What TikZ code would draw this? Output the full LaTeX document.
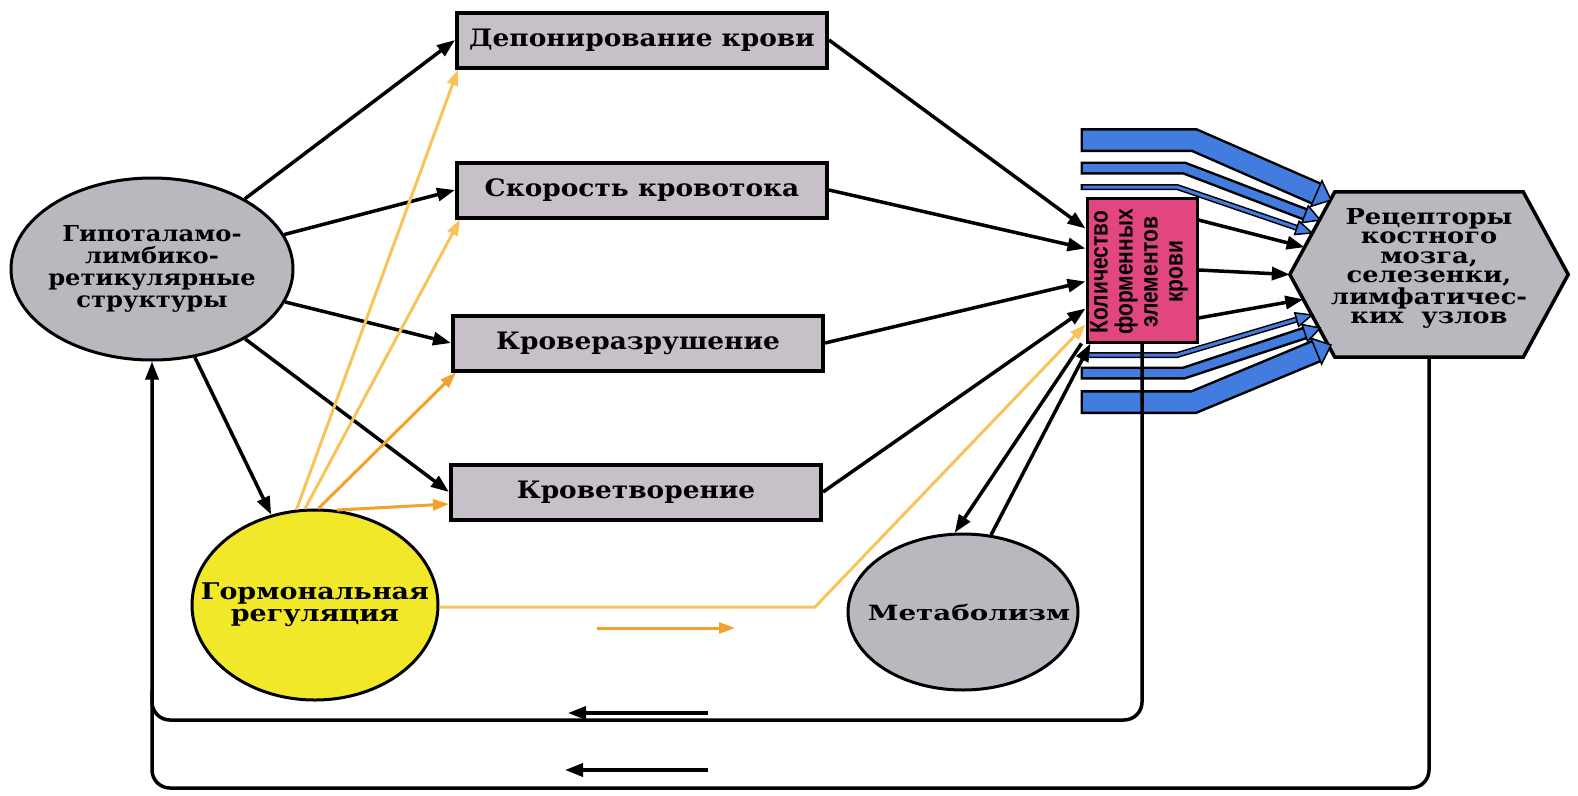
\documentclass[tikz,border=0pt]{standalone}
\usepackage{fontspec}
\setmainfont{DejaVu Serif}
\newfontfamily\bxfont[FakeStretch=1.1]{DejaVu Serif}
\newfontfamily\wfont[FakeStretch=1.17]{DejaVu Serif}
\newfontfamily\xwfont[FakeStretch=1.32]{DejaVu Serif}
\newfontfamily\sffont[FakeStretch=0.84]{Liberation Sans}
\usetikzlibrary{arrows.meta,shapes.geometric,calc}
\definecolor{boxgray}{RGB}{200,192,200}
\definecolor{cgray}{RGB}{186,184,190}
\definecolor{pinkf}{RGB}{226,70,128}
\definecolor{yell}{RGB}{240,232,40}
\definecolor{bblue}{RGB}{66,124,222}
\definecolor{orng}{RGB}{245,160,40}
\definecolor{lorng}{RGB}{248,196,90}
\begin{document}
\begin{tikzpicture}[x=1pt,y=-1pt,
  tipb/.style={-{Triangle[length=18pt,width=13pt]}},
  conn/.style={line width=3.5pt,tipb},
  box/.style={draw, line width=4pt, fill=boxgray, minimum width=370pt, minimum height=55pt, inner sep=0pt, font=\bxfont\bfseries\fontsize{24}{28}\selectfont},
  oval/.style={draw, line width=3pt, ellipse, inner sep=0pt},
  oarrow/.style={line width=3pt, orng, -{Triangle[length=16pt,width=11pt]}},
  loarrow/.style={oarrow, lorng},
  ovtext/.style={align=center, font=\bxfont\bfseries\fontsize{22}{22}\selectfont},
  hmtext/.style={align=center, font=\wfont\bfseries\fontsize{23}{22}\selectfont},
  mbtext/.style={align=center, font=\xwfont\bfseries\fontsize{21}{22}\selectfont},
  fb/.style={line width=3.5pt, rounded corners=18pt}
]
\useasboundingbox (0,0) rectangle (1578,795);

% left structures
\node[oval, fill=cgray, minimum width=282pt, minimum height=182pt,
  label={[ovtext]center:{Гипоталамо-\\лимбико-\\ретикулярные\\структуры}}] (hyp) at (152,269) {};

% boxes
\node[box] (b1) at (642,40) {Депонирование крови};
\node[box] (b2) at (642,190) {Скорость кровотока};
\node[box] (b3) at (638,343) {Кроверазрушение};
\node[box] (b4) at (636,492) {Кроветворение};

% hormonal & metabolism
\node[oval, fill=yell, minimum width=246pt, minimum height=190pt,
  label={[hmtext]center:{Гормональная\\регуляция}}] (horm) at (315,605) {};
\node[oval, fill=cgray, minimum width=230pt, minimum height=156pt,
  label={[mbtext]center:{\hspace*{12pt}Метаболизм}}] (metab) at (963,612) {};

% pink box
\node[draw, line width=3pt, fill=pinkf, minimum width=110pt, minimum height=144pt, inner sep=0pt] (pink) at (1142,270) {};
\node[rotate=90, align=center, font=\sffont\bfseries\fontsize{25}{25}\selectfont] (pinktxt) at ($(pink.center)+(-3,2)$) {Количество\\форменных\\элементов\\крови};

% hexagon
\node[minimum width=278pt, minimum height=165pt, inner sep=0pt] (hex) at (1429,274.5) {};
\coordinate (hTL) at ($(hex.north west)+(45,0)$);
\coordinate (hTR) at ($(hex.north east)+(-45,0)$);
\coordinate (hBL) at ($(hex.south west)+(45,0)$);
\coordinate (hBR) at ($(hex.south east)+(-45,0)$);
\draw[fill=cgray, line width=3.5pt] (hex.west) -- (hTL) -- (hTR) -- (hex.east) -- (hBR) -- (hBL) -- cycle;
\node[align=center, font=\wfont\bfseries\fontsize{22}{19.5}\selectfont] (hextxt) at ($(hex.center)+(0,-6)$) {Рецепторы\\костного\\мозга,\\селезенки,\\лимфатичес-\\ких~~узлов};

% blue bands
\foreach \n/\ys/\xb/\tx/\ty/\wo/\wi/\hw in {
  t1/140/1194/1331/200/24pt/19pt/14pt,
  t2/168/1184/1320/220/13pt/8pt/9pt,
  t3/187/1177/1312/233/6pt/3pt/7pt,
  u3/355/1177/1312/315/6pt/3pt/7pt,
  u2/373/1184/1320/328/13pt/8pt/9pt,
  u1/402/1194/1331/345/24pt/19pt/14pt}{
  \coordinate (s\n) at (1083,\ys);
  \coordinate (k\n) at (\xb,\ys);
  \coordinate (e\n) at (\tx,\ty);
  \coordinate (a\n) at ($(e\n)!16pt!(k\n)$);
  \draw[black, line width=\wo, line join=miter] ($(s\n)+(-2.5,0)$) -- (k\n) -- (a\n);
  \draw[bblue, line width=\wi, line join=miter] (s\n) -- (k\n) -- (a\n);
  \filldraw[fill=bblue, draw=black, line width=1.5pt] (e\n) -- ($(a\n)!\hw!90:(e\n)$) -- ($(a\n)!\hw!-90:(e\n)$) -- cycle;
}

% connectors from hypothalamic structures
\draw[conn] (hyp) -- (b1.west);
\draw[conn] (hyp) -- (b2.west);
\draw[conn] (hyp) -- (b3.west);
\draw[conn] (hyp) -- (b4.west);
\draw[conn] (hyp) -- (horm);

% orange hormonal arrows
\draw[loarrow] (horm.101) -- ($(b1.south west)+(3,0)$);
\draw[loarrow] (horm.96) -- ($(b2.south west)+(5,0)$);
\draw[oarrow] (horm.88) -- ($(b3.south west)+(5,0)$);
\draw[oarrow] (horm.77) -- ($(b4.west)+(0,12)$);
\coordinate (obend) at (815,607);
\draw[oarrow, lorng] (horm.east |- obend) -- (obend) -- ($(pink.north west)+(0,128)$);

% boxes to pink
\draw[conn] (b1.east) -- ($(pink.north west)+(0,32)$);
\draw[conn] (b2.east) -- ($(pink.north west)+(0,52)$);
\draw[conn] (b3.east) -- ($(pink.north west)+(0,85)$);
\draw[conn] (b4.east) -- ($(pink.north west)+(0,112)$);

% pink <-> metabolism
\draw[conn] ($(pink.south west)+(-4,0)$) -- (metab.96);
\draw[conn] (metab.70) -- ($(pink.south west)+(5,0)$);

% pink to hexagon
\draw[conn] ($(pink.east)+(0,-50)$) -- ($(hex.west)!0.33!(hTL)$);
\draw[conn] (pink.east) -- (hex.west);
\draw[conn] ($(pink.east)+(0,48)$) -- ($(hex.west)!0.3!(hBL)$);

% feedback loops
\coordinate (fin) at (152,720);
\coordinate (fout) at (152,788);
\draw[fb] (hex.south) |- (fout) -- (152,690);
\draw[fb, tipb] (pink.south) |- (fin) -- (hyp.south);

% small direction arrows
\coordinate (d1s) at (708,713); \coordinate (d1e) at (568,713);
\coordinate (d2s) at (708,770); \coordinate (d2e) at (565,770);
\coordinate (d3s) at (597,628); \coordinate (d3e) at (735,628);
\draw[conn] (d1s) -- (d1e);
\draw[conn] (d2s) -- (d2e);
\draw[oarrow] (d3s) -- (d3e);
\end{tikzpicture}
\end{document}
